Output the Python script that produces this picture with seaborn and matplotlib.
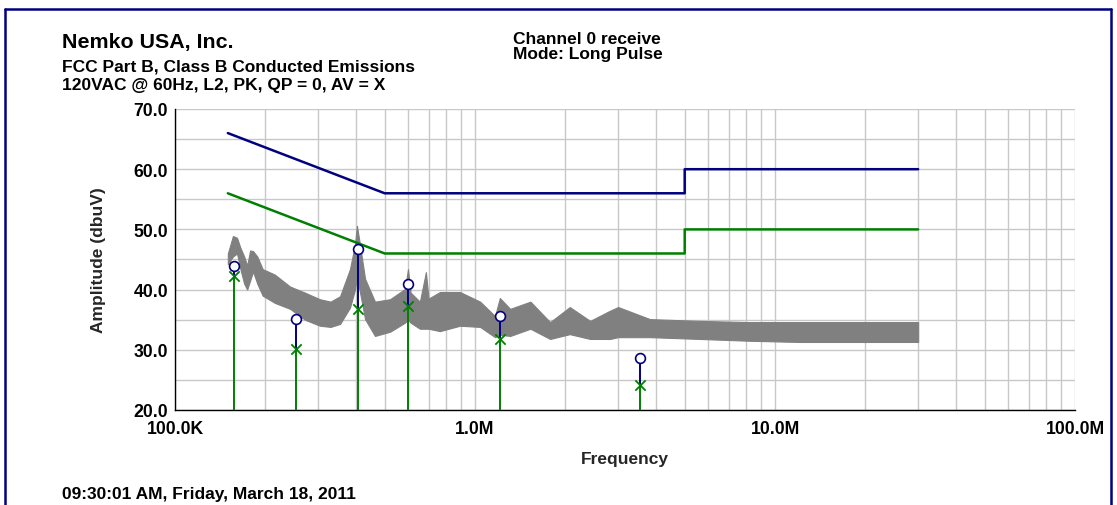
import numpy as np
import pandas as pd
import matplotlib
matplotlib.use("Agg")
import matplotlib.pyplot as plt
from matplotlib.lines import Line2D
from matplotlib.ticker import FixedLocator, LogLocator, NullFormatter
import seaborn as sns

# ---- limit lines (frequency in MHz, level in dBuV) ----
qp_limit_freq = [0.15, 0.5, 0.5, 5.0, 5.0, 30.0]
qp_limit_level = [66.0, 56.0, 56.0, 56.0, 60.0, 60.0]
av_limit_freq = [0.15, 0.5, 0.5, 5.0, 5.0, 30.0]
av_limit_level = [56.0, 46.0, 46.0, 46.0, 50.0, 50.0]

# ---- measured peak scan, envelope of the trace (MHz, low dBuV, high dBuV) ----
scan_freq = [0.150, 0.156, 0.161, 0.165, 0.170, 0.174, 0.178, 0.182, 0.188, 0.196,
             0.215, 0.242, 0.271, 0.304, 0.330, 0.355, 0.383, 0.398, 0.404, 0.412,
             0.430, 0.464, 0.521, 0.584, 0.598, 0.610, 0.655, 0.686, 0.700, 0.764,
             0.891, 1.04, 1.166, 1.21, 1.31, 1.53, 1.78, 2.07, 2.42, 2.82,
             3.0, 3.83, 5.62, 8.25, 12.1, 17.8, 30.0]
scan_low = [44.2, 45.5, 46.0, 43.5, 41.0, 40.0, 41.5, 43.0, 41.0, 39.0,
            37.8, 36.8, 35.0, 34.0, 33.8, 34.3, 37.0, 40.0, 42.0, 40.0,
            35.1, 32.3, 33.0, 34.5, 35.0, 34.5, 33.5, 33.5, 33.5, 33.1,
            34.0, 33.8, 32.1, 32.5, 32.3, 33.5, 31.8, 32.6, 31.8, 31.8,
            32.1, 32.1, 31.8, 31.5, 31.3, 31.3, 31.3]
scan_high = [46.0, 48.9, 48.6, 47.0, 45.5, 44.0, 46.5, 46.4, 45.5, 43.4,
             42.5, 40.5, 39.5, 38.4, 38.0, 38.9, 43.4, 47.5, 50.6, 48.0,
             41.8, 38.0, 38.4, 40.1, 43.4, 39.5, 38.0, 42.9, 38.5, 39.6,
             39.6, 38.0, 35.6, 38.6, 36.8, 38.0, 34.6, 37.1, 34.8, 36.5,
             37.1, 35.1, 34.8, 34.6, 34.6, 34.6, 34.6]

# ---- reported emissions: peak (circle) and average (cross) ----
emission_freq = [0.157, 0.254, 0.408, 0.600, 1.21, 3.55]
emission_peak = [44.0, 35.1, 46.7, 41.0, 35.6, 28.7]
emission_avg = [42.2, 30.1, 36.7, 37.2, 31.8, 24.2]

# ---- axis labels ----
x_tick_values = [0.1, 1.0, 10.0, 100.0]
x_tick_labels = ["100.0K", "1.0M", "10.0M", "100.0M"]
y_tick_values = [20, 30, 40, 50, 60, 70]
y_tick_labels = ["20.0", "30.0", "40.0", "50.0", "60.0", "70.0"]

NAVY = "#000080"
GREEN = "#008000"
GRAY = "#808080"

sns.set_theme(style="white")
plt.rcParams["font.family"] = ["Liberation Sans", "DejaVu Sans"]
plt.rcParams["font.weight"] = "bold"

W, H = 1117, 506
fig = plt.figure(figsize=(W / 100, H / 100), dpi=100)
ax = fig.add_axes([175 / W, 1 - 411 / H, 900 / W, 301 / H])

# scan trace
ax.fill_between(scan_freq, scan_low, scan_high, color=GRAY, linewidth=0.8,
                edgecolor=GRAY, zorder=2)

# limit lines
qp_df = pd.DataFrame({"f": qp_limit_freq, "dB": qp_limit_level})
av_df = pd.DataFrame({"f": av_limit_freq, "dB": av_limit_level})
for df, col in ((qp_df, NAVY), (av_df, GREEN)):
    sns.lineplot(data=df, x="f", y="dB", sort=False, estimator=None, errorbar=None,
                 color=col, linewidth=1.8, ax=ax, zorder=3)

# emission stems
ax.vlines(emission_freq, 20, emission_avg, color=GREEN, linewidth=1.4, zorder=4)
ax.vlines(emission_freq, emission_avg, emission_peak, color=NAVY, linewidth=1.4, zorder=4)
em_df = pd.DataFrame({"f": emission_freq, "pk": emission_peak, "av": emission_avg})
sns.scatterplot(data=em_df, x="f", y="av", marker="x", s=55, color=GREEN,
                linewidth=1.3, ax=ax, zorder=5)
sns.scatterplot(data=em_df, x="f", y="pk", marker="o", s=50, facecolor="white",
                edgecolor=NAVY, linewidth=1.2, ax=ax, zorder=6)

ax.set_xscale("log")
ax.set_xlim(0.1, 100.0)
ax.set_ylim(20, 70)

ax.xaxis.set_major_locator(FixedLocator(x_tick_values))
ax.set_xticklabels(x_tick_labels)
ax.xaxis.set_minor_locator(LogLocator(base=10, subs=np.arange(2, 10)))
ax.xaxis.set_minor_formatter(NullFormatter())
ax.yaxis.set_major_locator(FixedLocator(y_tick_values))
ax.set_yticklabels(y_tick_labels)
ax.yaxis.set_minor_locator(FixedLocator([25, 35, 45, 55, 65]))

ax.grid(True, which="both", color="#c8c8c8", linewidth=1.0, zorder=0)
ax.set_axisbelow(True)
for side in ("top", "right"):
    ax.spines[side].set_visible(False)
for side in ("left", "bottom"):
    ax.spines[side].set_color("black")
    ax.spines[side].set_linewidth(1.0)

ax.tick_params(axis="both", which="major", direction="inout", length=8, width=1,
               color="black", labelsize=12.7, labelcolor="black")
ax.tick_params(axis="both", which="minor", direction="inout", length=6, width=1,
               color="black")
ax.tick_params(axis="x", which="major", pad=3)
ax.tick_params(axis="y", which="major", pad=1)
for lbl in ax.get_xticklabels() + ax.get_yticklabels():
    lbl.set_fontweight("bold")

ax.set_xlabel("Frequency", fontsize=12.5, fontweight="bold", labelpad=10)
ax.set_ylabel("Amplitude (dbuV)", fontsize=12.5, fontweight="bold", labelpad=20)


def fig_text(x, y, s, size, **kw):
    fig.text(x / W, 1 - y / H, s, fontsize=size, fontweight="bold",
             color="black", va="baseline", ha="left", **kw)


fig_text(62, 48, "Nemko USA, Inc.", 15.4)
fig_text(62, 72, "FCC Part B, Class B Conducted Emissions", 12.5)
fig_text(62, 90, "120VAC @ 60Hz, L2, PK, QP = 0, AV = X", 12.5)
fig_text(513, 44, "Channel 0 receive", 12.5)
fig_text(513, 59, "Mode: Long Pulse", 12.5)
fig_text(62, 499, "09:30:01 AM, Friday, March 18, 2011", 12.5)

# page frame
frame_kw = dict(color=NAVY, linewidth=1.8, transform=fig.transFigure)
fig.add_artist(Line2D([5 / W, 5 / W], [0, 1 - 10 / H], **frame_kw))
fig.add_artist(Line2D([5 / W, 1111 / W], [1 - 10 / H, 1 - 10 / H], **frame_kw))
fig.add_artist(Line2D([1111 / W, 1111 / W], [0, 1 - 10 / H], **frame_kw))

fig.savefig("out.png", dpi=100, facecolor="white")
